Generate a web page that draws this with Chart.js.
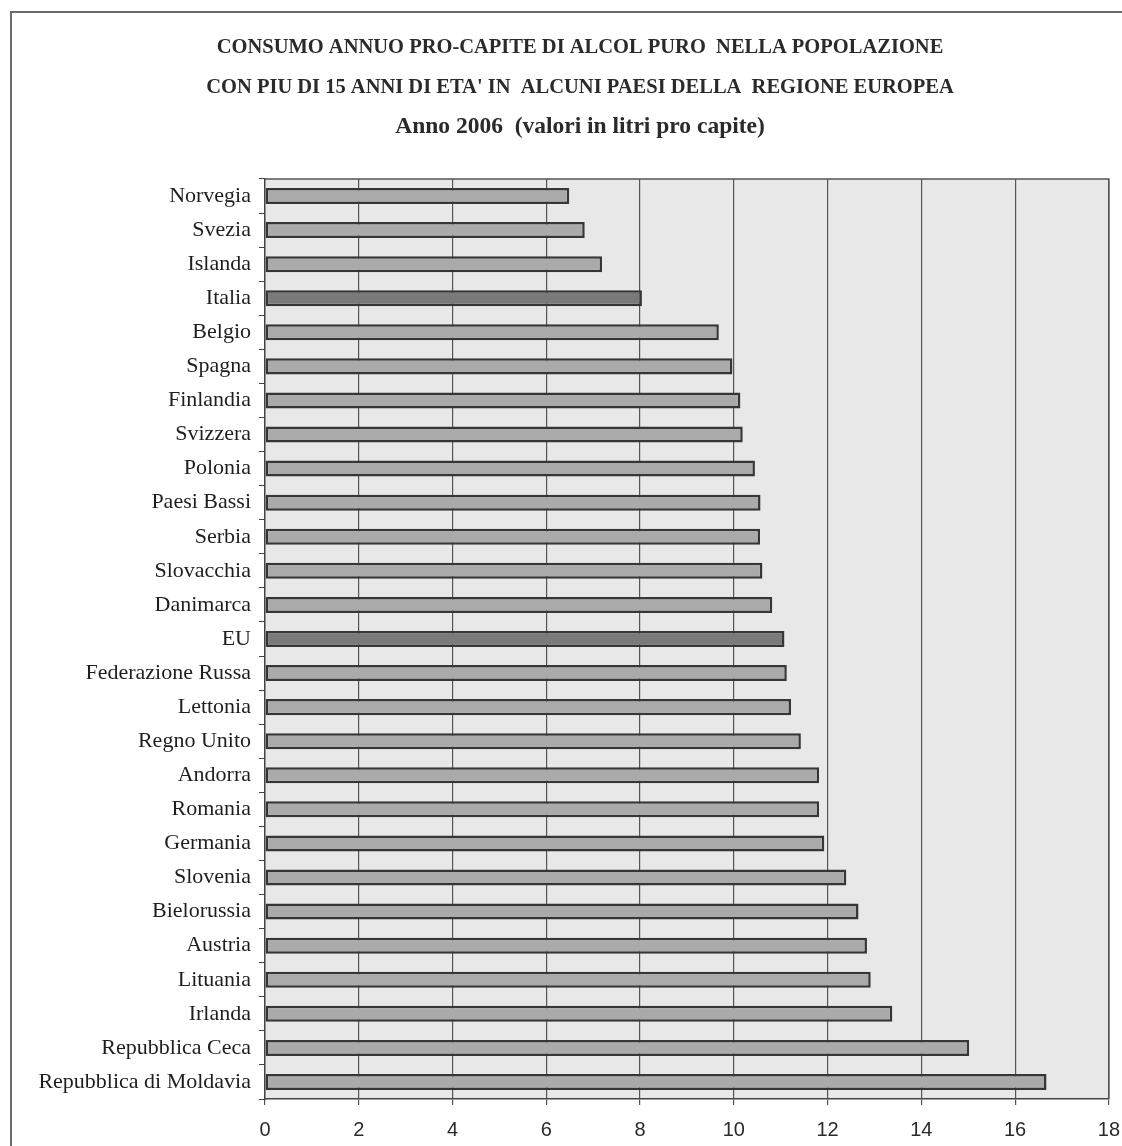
<!DOCTYPE html>
<html>
<head>
<meta charset="utf-8">
<script src="https://cdn.jsdelivr.net/npm/chart.js@4.4.1/dist/chart.umd.min.js"></script>
<style>
  html, body { margin: 0; padding: 0; background: #fff; }
  canvas { display: block; }
</style>
</head>
<body>
<canvas id="alcol-chart" width="1122" height="1146"></canvas>
<script>
// Paesi e consumi (litri pro capite)
const paesi = [
    'Norvegia', 'Svezia', 'Islanda', 'Italia', 'Belgio', 'Spagna', 'Finlandia',
    'Svizzera', 'Polonia', 'Paesi Bassi', 'Serbia', 'Slovacchia', 'Danimarca',
    'EU', 'Federazione Russa', 'Lettonia', 'Regno Unito', 'Andorra', 'Romania',
    'Germania', 'Slovenia', 'Bielorussia', 'Austria', 'Lituania', 'Irlanda',
    'Repubblica Ceca', 'Repubblica di Moldavia'
];
const litri = [
    6.49, 6.82, 7.19, 8.04, 9.68, 9.97, 10.14,
    10.19, 10.45, 10.57, 10.56, 10.61, 10.82,
    11.08, 11.13, 11.22, 11.43, 11.82, 11.82,
    11.93, 12.40, 12.66, 12.84, 12.92, 13.38,
    15.02, 16.67
];
// barre evidenziate
const evidenziati = ['Italia', 'EU'];
const xTicks = [0, 2, 4, 6, 8, 10, 12, 14, 16, 18];

const titolo = [
    'CONSUMO ANNUO PRO-CAPITE DI ALCOL PURO  NELLA POPOLAZIONE',
    "CON PIU DI 15 ANNI DI ETA' IN  ALCUNI PAESI DELLA  REGIONE EUROPEA"
];
const sottotitolo = 'Anno 2006  (valori in litri pro capite)';

// sfondo dell'area del grafico, cornice esterna e bordo superiore/destro
const cornice = {
    id: 'cornice',
    beforeDraw(chart) {
        const { ctx, chartArea: a } = chart;
        ctx.save();
        ctx.fillStyle = '#fff';
        ctx.fillRect(0, 0, chart.width, chart.height);
        ctx.strokeStyle = '#6a6a6a';
        ctx.lineWidth = 2;
        ctx.beginPath();
        ctx.moveTo(11, chart.height);
        ctx.lineTo(11, 12);
        ctx.lineTo(chart.width, 12);
        ctx.stroke();
        ctx.fillStyle = '#e8e8e8';
        ctx.fillRect(a.left, a.top, a.right - a.left, a.bottom - a.top);
        ctx.restore();
    },
    afterDraw(chart) {
        const { ctx, chartArea: a } = chart;
        ctx.save();
        ctx.strokeStyle = '#555';
        ctx.lineWidth = 1.5;
        ctx.beginPath();
        ctx.moveTo(a.left, a.top);
        ctx.lineTo(a.right, a.top);
        ctx.lineTo(a.right, a.bottom);
        ctx.stroke();
        ctx.restore();
    }
};

function initializeChart() {
    const ctx = document.getElementById('alcol-chart').getContext('2d');

    new Chart(ctx, {
        type: 'bar',
        data: {
            labels: paesi,
            datasets: [{
                data: litri,
                backgroundColor: paesi.map(p => evidenziati.includes(p) ? '#7a7a7a' : '#aaaaaa'),
                borderColor: '#363636',
                borderWidth: 2.5,
                borderSkipped: false,
                barPercentage: 0.47,
                categoryPercentage: 1
            }]
        },
        options: {
            indexAxis: 'y',
            responsive: false,
            animation: false,
            layout: {
                padding: { left: 38, right: 0, top: 0, bottom: 0 }
            },
            plugins: {
                legend: { display: false },
                tooltip: { enabled: false },
                title: {
                    display: true,
                    text: titolo,
                    color: '#2a2a2a',
                    font: { family: 'Liberation Serif', size: 20.5, weight: 'bold', lineHeight: 1.927 },
                    padding: { top: 28, bottom: 0 }
                },
                subtitle: {
                    display: true,
                    text: sottotitolo,
                    color: '#2a2a2a',
                    font: { family: 'Liberation Serif', size: 23.5, weight: 'bold', lineHeight: 1.7 },
                    padding: { top: 0, bottom: 32 }
                }
            },
            scales: {
                x: {
                    min: 0,
                    max: 18,
                    afterBuildTicks: scale => {
                        scale.ticks = xTicks.map(v => ({ value: v }));
                    },
                    afterFit: scale => { scale.height = 47; },
                    grid: {
                        color: ctx => ctx.tick && ctx.tick.value === 0 ? 'rgba(0,0,0,0)' : '#555',
                        lineWidth: 1.2,
                        tickColor: '#555',
                        tickLength: 6
                    },
                    border: { display: true, color: '#444', width: 1.5 },
                    ticks: {
                        color: '#2a2a2a',
                        padding: 2,
                        font: { family: 'Liberation Sans', size: 20, lineHeight: 2.3 }
                    }
                },
                y: {
                    afterFit: scale => { scale.width = 227; },
                    grid: {
                        offset: true,
                        drawOnChartArea: false,
                        tickColor: '#444',
                        tickLength: 6
                    },
                    border: { display: true, color: '#444', width: 1.5 },
                    ticks: {
                        color: '#1e1e1e',
                        padding: 8,
                        font: { family: 'Liberation Serif', size: 22 }
                    }
                }
            }
        },
        plugins: [cornice]
    });
}

initializeChart();
</script>
</body>
</html>
